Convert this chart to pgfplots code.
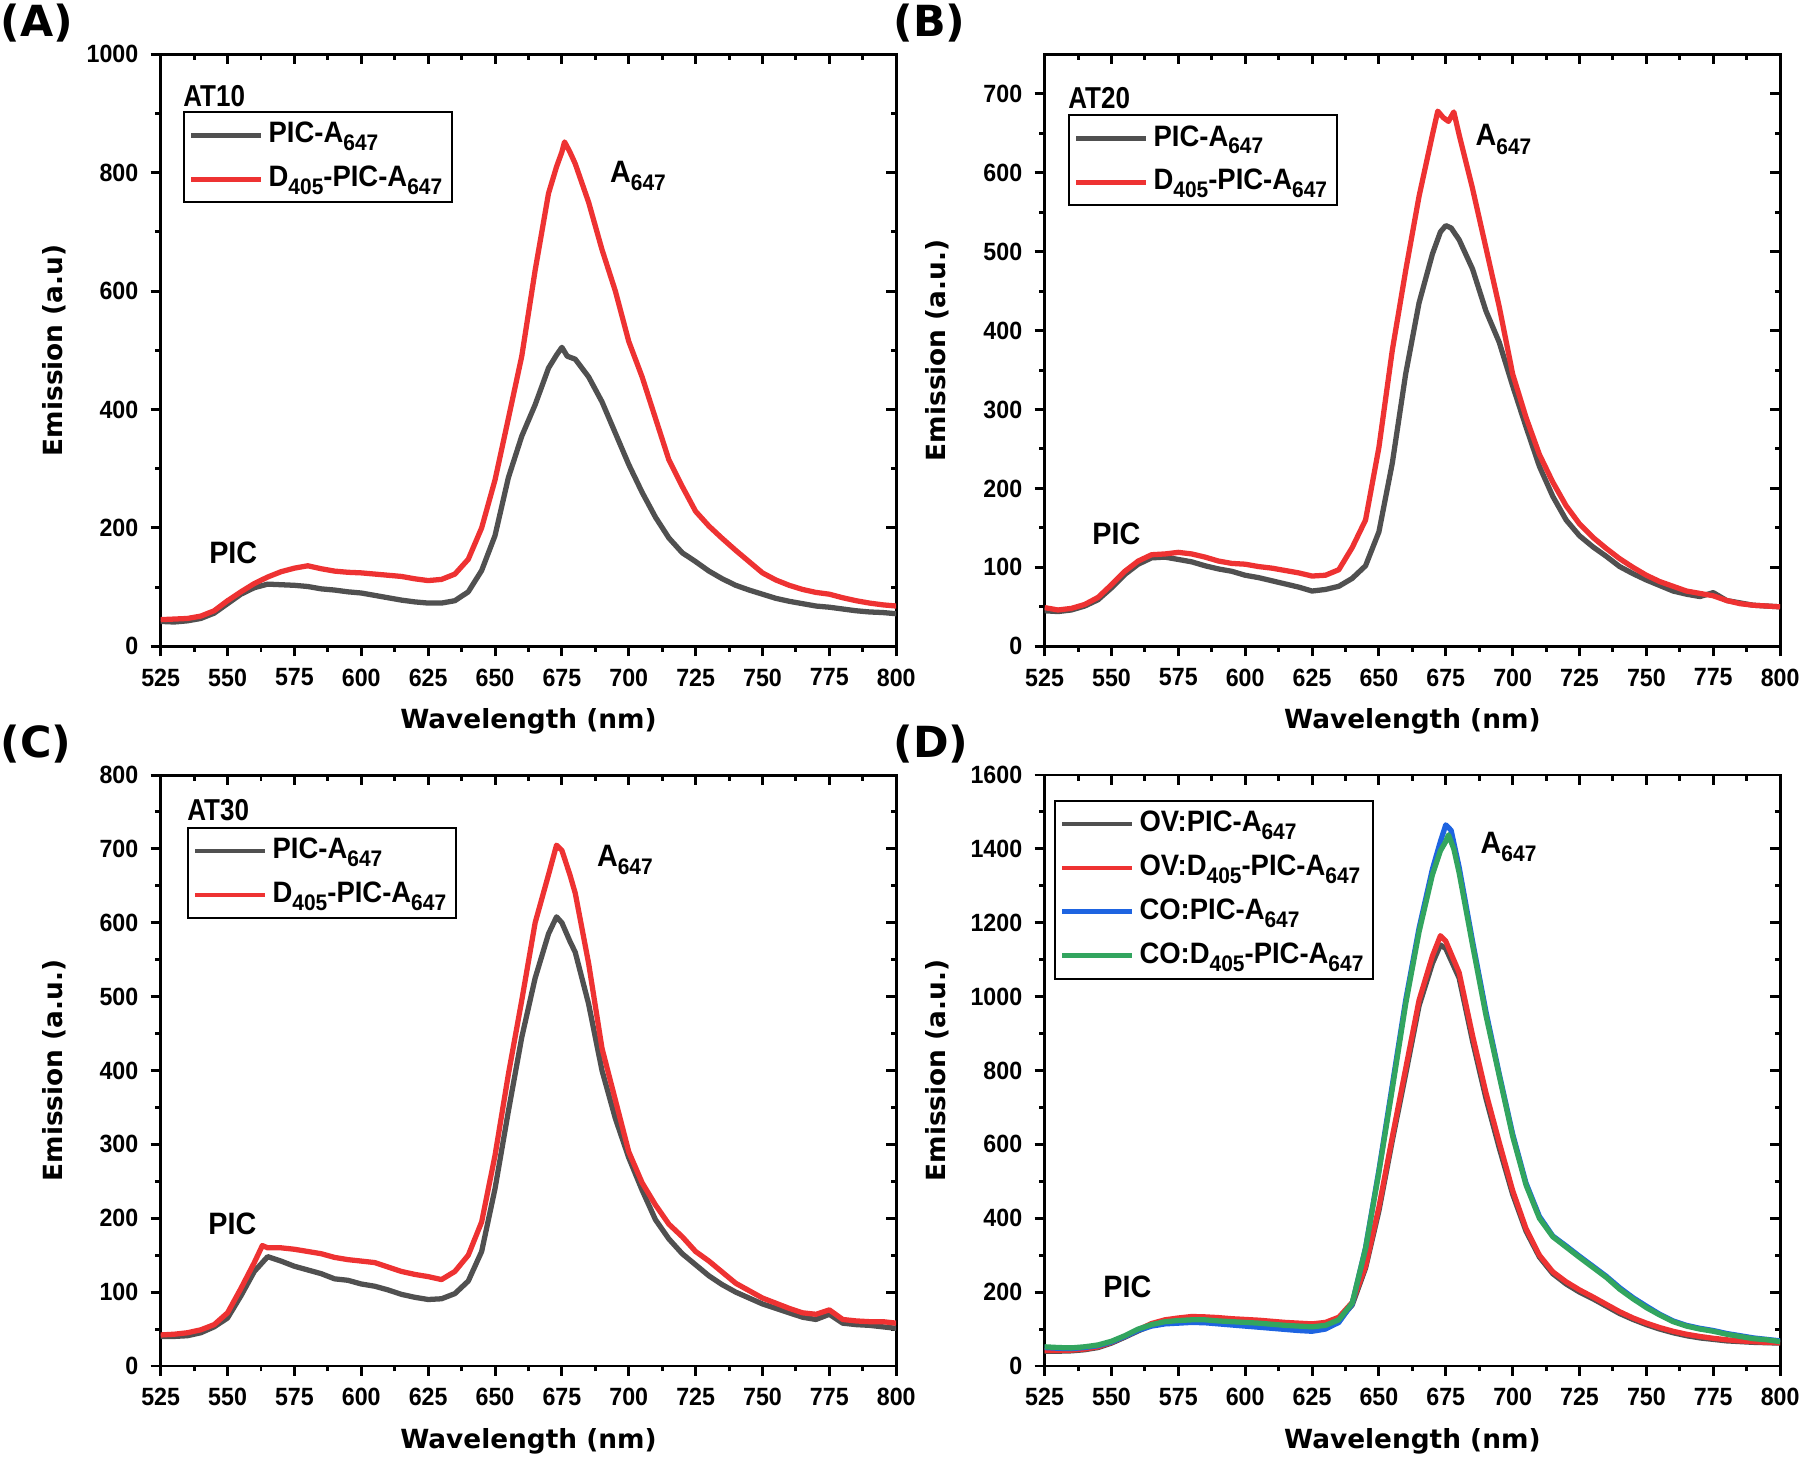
\documentclass[border=0pt]{standalone}
\usepackage{fontspec}
\setmainfont{Liberation Sans}
\newfontfamily\tickfont[FakeStretch=0.93]{Liberation Sans}
\newfontfamily\narfont[FakeStretch=0.86]{Liberation Sans}
\newfontfamily\labfont{DejaVu Sans}
\usepackage{pgfplots}
\pgfplotsset{compat=1.18}

\definecolor{cgray}{RGB}{80,80,80}
\definecolor{cred}{RGB}{238,50,50}
\definecolor{cblue}{RGB}{30,100,225}
\definecolor{cgreen}{RGB}{50,165,95}

\newcommand\tf{\tickfont\bfseries\fontsize{7.1}{8.5}\selectfont}
\newcommand\lgf{\tickfont\bfseries\fontsize{8.4}{9.6}\selectfont}
\newcommand\atf{\narfont\bfseries\fontsize{8.6}{9.6}\selectfont}
\newcommand\anf{\tickfont\bfseries\fontsize{8.8}{10}\selectfont}
\newcommand\lf{\labfont\bfseries\fontsize{7.5}{9}\selectfont}
\newcommand\pf{\labfont\bfseries\fontsize{12.2}{14}\selectfont}
\newcommand\sub[1]{\raisebox{-0.5ex}{\fontsize{6.4}{6.4}\selectfont #1}}
\newcommand\Asub{A\sub{647}}
\newcommand\Dsub{D\sub{405}}

\pgfplotsset{
 base/.style={scale only axis, width=73.55mm, height=59.2mm,
   xmin=525, xmax=800, xtick={525,550,...,800}, minor x tick num=1,
   minor y tick num=1, ymin=0,
   axis line style={line width=0.85pt},
   major tick style={black, line width=0.85pt},
   minor tick style={black, line width=0.85pt},
   major tick length=1.0mm, minor tick length=0.55mm,
   /pgf/number format/assume math mode=true,
   /pgf/number format/1000 sep={},
   tick label style={font=\tf}},
 front/.style={base, tick align=outside, xtick pos=left, ytick pos=left,
   xlabel={Wavelength (nm)},
   xlabel style={at={(axis description cs:0.5,-0.1267)}, anchor=center, font=\lf},
   ylabel style={at={(axis description cs:-0.1454,0.5)}, anchor=center, font=\lf},
   legend image code/.code={\draw[##1, line width=1.4pt] (0mm,0mm) -- (7mm,0mm);},
   legend style={draw=black, line width=0.6pt, font=\lgf, inner xsep=0.5mm, inner ysep=0.3mm,
     row sep=0.4mm, cells={anchor=west}, anchor=north west,
     nodes={inner xsep=0.5mm}},
   every axis plot/.append style={line width=1.5pt, line join=round}},
 back/.style={base, tick align=inside, xtick pos=right, ytick pos=right,
   xticklabels={}, yticklabels={}},
}

\begin{document}
\begin{tikzpicture}
\useasboundingbox (0,0) rectangle (180mm,146mm);

% ---------------- (A) ----------------
\begin{axis}[back, at={(16.07mm,81.37mm)}, anchor=south west, ymax=1000, ytick={0,200,...,1000}]
\end{axis}
\begin{axis}[front, at={(16.07mm,81.37mm)}, anchor=south west, ymax=1000, ytick={0,200,...,1000},
  ylabel={Emission (a.u)}, legend style={at={(axis description cs:0.0299,0.9037)}}]
\addplot[cgray] coordinates {(525,42)(530,41)(535,43)(540,47)(545,56)(550,72)(555,88)(560,99)(565,105)(570,104)(575,103)(580,101)(585,97)(590,95)(595,92)(600,90)(605,86)(610,82)(615,78)(620,75)(625,73)(630,73)(635,77)(640,92)(645,128)(650,187)(655,285)(660,355)(665,408)(670,470)(673,492)(675,505)(677,490)(680,485)(685,455)(690,413)(695,360)(700,307)(705,260)(710,218)(715,183)(720,158)(725,143)(730,127)(735,114)(740,103)(745,95)(750,88)(755,81)(760,76)(765,72)(770,68)(775,66)(780,63)(785,60)(790,58)(795,57)(800,55)};
\addlegendentry{PIC-\Asub}
\addplot[cred] coordinates {(525,45)(530,46)(535,47)(540,51)(545,60)(550,77)(555,92)(560,106)(565,117)(570,126)(575,132)(580,136)(585,131)(590,127)(595,125)(600,124)(605,122)(610,120)(615,118)(620,114)(625,111)(630,113)(635,122)(640,147)(645,200)(650,281)(655,385)(660,490)(665,635)(670,765)(673,810)(675,835)(676,852)(678,835)(680,815)(685,750)(690,670)(695,600)(700,515)(705,455)(710,385)(715,315)(720,270)(725,228)(730,203)(735,182)(740,162)(745,143)(750,124)(755,112)(760,103)(765,96)(770,91)(775,88)(780,82)(785,77)(790,73)(795,70)(800,68)};
\addlegendentry{\Dsub-PIC-\Asub}
\node[anchor=south west, inner sep=0, font=\atf] at (axis description cs:0.0299,0.9105) {AT10};
\node[anchor=west, inner sep=0, font=\anf] at (axis cs:542.9,157) {PIC};
\node[anchor=west, inner sep=0, font=\anf] at (axis cs:692.8,795) {\Asub};
\end{axis}

% ---------------- (B) ----------------
\begin{axis}[back, at={(104.46mm,81.37mm)}, anchor=south west, ymax=750, ytick={0,100,...,700}]
\end{axis}
\begin{axis}[front, at={(104.46mm,81.37mm)}, anchor=south west, ymax=750, ytick={0,100,...,700},
  ylabel={Emission (a.u.)}, legend style={at={(axis description cs:0.0313,0.8986)}}]
\addplot[cgray] coordinates {(525,45)(530,44)(535,46)(540,51)(545,59)(550,74)(555,91)(560,104)(565,112)(570,113)(575,110)(580,107)(585,102)(590,98)(595,95)(600,90)(605,87)(610,83)(615,79)(620,75)(625,70)(630,72)(635,76)(640,86)(645,102)(650,145)(655,232)(660,345)(665,435)(670,497)(673,525)(675,533)(677,530)(680,515)(685,478)(690,425)(695,385)(700,330)(705,278)(710,228)(715,190)(720,160)(725,140)(730,126)(735,114)(740,101)(745,92)(750,84)(755,77)(760,70)(765,66)(770,63)(775,68)(780,58)(785,55)(790,52)(795,51)(800,50)};
\addlegendentry{PIC-\Asub}
\addplot[cred] coordinates {(525,49)(530,46)(535,48)(540,53)(545,62)(550,78)(555,95)(560,108)(565,116)(570,117)(575,119)(580,117)(585,113)(590,108)(595,105)(600,104)(605,101)(610,99)(615,96)(620,93)(625,89)(630,90)(635,97)(640,125)(645,160)(650,252)(655,375)(660,476)(665,570)(670,648)(672,678)(674,670)(676,665)(678,677)(680,648)(685,580)(690,505)(695,430)(700,345)(705,290)(710,243)(715,208)(720,178)(725,155)(730,138)(735,124)(740,111)(745,100)(750,90)(755,82)(760,76)(765,70)(770,67)(775,64)(780,58)(785,54)(790,52)(795,51)(800,50)};
\addlegendentry{\Dsub-PIC-\Asub}
\node[anchor=south west, inner sep=0, font=\atf] at (axis description cs:0.0313,0.907) {AT20};
\node[anchor=west, inner sep=0, font=\anf] at (axis cs:542.6,143) {PIC};
\node[anchor=west, inner sep=0, font=\anf] at (axis cs:685.9,642) {\Asub};
\end{axis}

% ---------------- (C) ----------------
\begin{axis}[back, at={(16.07mm,9.40mm)}, anchor=south west, height=59.1mm, ymax=800, ytick={0,100,...,800}]
\end{axis}
\begin{axis}[front, at={(16.07mm,9.40mm)}, anchor=south west, height=59.1mm, ymax=800, ytick={0,100,...,800},
  ylabel={Emission (a.u.)}, legend style={at={(axis description cs:0.0353,0.912)}}]
\addplot[cgray] coordinates {(525,40)(530,40)(535,41)(540,45)(545,53)(550,65)(555,95)(560,128)(565,148)(570,142)(575,135)(580,130)(585,125)(590,118)(595,116)(600,111)(605,108)(610,103)(615,97)(620,93)(625,90)(630,91)(635,98)(640,115)(645,155)(650,240)(655,345)(660,445)(665,525)(670,585)(673,608)(675,600)(678,575)(680,560)(685,490)(690,400)(695,335)(700,282)(705,238)(710,198)(715,172)(720,152)(725,137)(730,122)(735,110)(740,100)(745,92)(750,84)(755,78)(760,72)(765,66)(770,63)(775,70)(780,58)(785,56)(790,55)(795,53)(800,51)};
\addlegendentry{PIC-\Asub}
\addplot[cred] coordinates {(525,42)(530,43)(535,45)(540,49)(545,56)(550,72)(555,105)(560,140)(563,163)(565,160)(570,160)(575,158)(580,155)(585,152)(590,147)(595,144)(600,142)(605,140)(610,134)(615,128)(620,124)(625,121)(630,117)(635,128)(640,150)(645,195)(650,285)(655,395)(660,495)(665,600)(670,665)(673,705)(675,698)(678,665)(680,640)(685,545)(690,430)(695,360)(700,290)(705,248)(710,218)(715,192)(720,175)(725,155)(730,142)(735,127)(740,112)(745,102)(750,92)(755,85)(760,78)(765,72)(770,70)(775,76)(780,63)(785,61)(790,60)(795,60)(800,58)};
\addlegendentry{\Dsub-PIC-\Asub}
\node[anchor=south west, inner sep=0, font=\atf] at (axis description cs:0.0353,0.922) {AT30};
\node[anchor=west, inner sep=0, font=\anf] at (axis cs:542.6,193) {PIC};
\node[anchor=west, inner sep=0, font=\anf] at (axis cs:687.9,685) {\Asub};
\end{axis}

% ---------------- (D) ----------------
\begin{axis}[back, at={(104.46mm,9.40mm)}, anchor=south west, height=59.1mm, ymax=1600, ytick={0,200,...,1600}]
\end{axis}
\begin{axis}[front, at={(104.46mm,9.40mm)}, anchor=south west, height=59.1mm, ymax=1600, ytick={0,200,...,1600},
  ylabel={Emission (a.u.)}, legend style={at={(axis description cs:0.0122,0.9577)}}]
\addplot[cgray] coordinates {(525,40)(530,40)(535,41)(540,44)(545,50)(550,62)(555,78)(560,95)(565,110)(570,118)(575,122)(580,124)(585,124)(590,122)(595,120)(600,118)(605,116)(610,113)(615,110)(620,108)(625,106)(630,110)(635,125)(640,165)(645,265)(650,420)(655,610)(660,790)(665,975)(670,1090)(673,1140)(675,1130)(680,1050)(685,880)(690,725)(695,590)(700,465)(705,365)(710,295)(715,250)(720,222)(725,200)(730,182)(735,162)(740,142)(745,126)(750,112)(755,100)(760,90)(765,82)(770,76)(775,72)(780,68)(785,66)(790,64)(795,63)(800,62)};
\addlegendentry{OV:PIC-\Asub}
\addplot[cred] coordinates {(525,42)(530,42)(535,43)(540,46)(545,52)(550,64)(555,80)(560,98)(565,115)(570,125)(575,130)(580,134)(585,133)(590,131)(595,128)(600,126)(605,124)(610,121)(615,118)(620,116)(625,114)(630,118)(635,132)(640,172)(645,270)(650,430)(655,620)(660,805)(665,990)(670,1110)(673,1165)(675,1150)(680,1065)(685,895)(690,740)(695,605)(700,475)(705,372)(710,300)(715,255)(720,228)(725,206)(730,187)(735,167)(740,147)(745,130)(750,116)(755,104)(760,94)(765,86)(770,80)(775,75)(780,71)(785,68)(790,66)(795,64)(800,63)};
\addlegendentry{OV:\Dsub-PIC-\Asub}
\addplot[cblue] coordinates {(525,50)(530,48)(535,47)(540,50)(545,55)(550,65)(555,80)(560,97)(565,108)(570,114)(575,116)(580,118)(585,117)(590,114)(595,111)(600,108)(605,105)(610,102)(615,99)(620,96)(625,94)(630,100)(635,118)(640,168)(645,320)(650,530)(655,760)(660,990)(665,1185)(670,1345)(673,1420)(675,1465)(677,1450)(680,1350)(685,1150)(690,960)(695,790)(700,628)(705,495)(710,405)(715,352)(720,325)(725,297)(730,270)(735,243)(740,212)(745,185)(750,162)(755,140)(760,122)(765,110)(770,102)(775,96)(780,88)(785,82)(790,76)(795,72)(800,68)};
\addlegendentry{CO:PIC-\Asub}
\addplot[cgreen] coordinates {(525,52)(530,50)(535,49)(540,52)(545,57)(550,67)(555,82)(560,100)(565,112)(570,120)(575,123)(580,125)(585,125)(590,122)(595,120)(600,118)(605,116)(610,113)(615,110)(620,108)(625,106)(630,110)(635,125)(640,170)(645,318)(650,525)(655,750)(660,980)(665,1175)(670,1330)(673,1395)(675,1420)(676,1438)(678,1400)(680,1335)(685,1140)(690,950)(695,785)(700,622)(705,490)(710,400)(715,350)(720,322)(725,294)(730,267)(735,240)(740,208)(745,182)(750,158)(755,138)(760,120)(765,108)(770,100)(775,94)(780,86)(785,80)(790,74)(795,71)(800,66)};
\addlegendentry{CO:\Dsub-PIC-\Asub}
\node[anchor=west, inner sep=0, font=\anf] at (axis cs:546.7,214) {PIC};
\node[anchor=west, inner sep=0, font=\anf] at (axis cs:687.8,1405) {\Asub};
\end{axis}

% panel labels
\node[anchor=west, inner sep=0, font=\pf] at (0mm,143.7mm) {(A)};
\node[anchor=west, inner sep=0, font=\pf] at (89.3mm,143.7mm) {(B)};
\node[anchor=west, inner sep=0, font=\pf] at (0mm,71.6mm) {(C)};
\node[anchor=west, inner sep=0, font=\pf] at (89.3mm,71.6mm) {(D)};
\end{tikzpicture}
\end{document}
